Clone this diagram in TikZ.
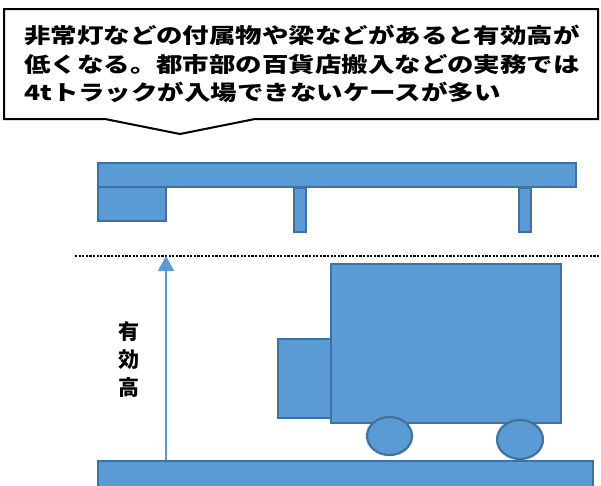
\documentclass[tikz,border=0pt]{standalone}
\usepackage{fontspec}
\usepackage{tikz}
\usetikzlibrary{positioning,arrows.meta}

\newfontfamily\jpfont{Noto Sans CJK JP}
\newfontfamily\jpwide[FakeStretch=1.26]{Noto Sans CJK JP}
\definecolor{partfill}{HTML}{5B9BD5}
\definecolor{partline}{HTML}{41719C}

\begin{document}
\begin{tikzpicture}[
    x=1pt, y=-1pt,
    part/.style={draw=partline, fill=partfill, line width=2.2pt},
    callout/.style={draw=black, fill=white, line width=2pt, line join=miter},
    note/.style={font=\jpwide\bfseries\fontsize{21}{28.5}\selectfont, align=left, inner sep=0pt},
    label/.style={font=\jpfont\bfseries\fontsize{21}{28}\selectfont, align=center, inner sep=0pt},
    arrow/.style={-{Triangle[width=16pt,length=15pt]}, draw=partfill, line width=1.3pt},
    limit/.style={draw=black, line width=2.4pt, dash pattern=on 2.2pt off 1.4pt}
]
\useasboundingbox (0,0) rectangle (601,485);
\clip (0,0) rectangle (601,485);

% --- Callout ---
\coordinate (boxnw) at (4,9);
\coordinate (boxse) at (598,119);
\coordinate (tip) at (180,134);
\draw[callout] (boxnw) -- (boxnw -| boxse) -- (boxse) -- (255,119) -- (tip)
    -- (105,119) -- (boxnw |- boxse) -- cycle;
\node[note] (note) at (302,64) {非常灯などの付属物や梁などがあると有効高が\\低くなる。都市部の百貨店搬入などの実務では\\4tトラックが入場できないケースが多い};

% --- Ceiling ---
\draw[part] (98,163) rectangle (576,187);
\draw[part] (98,187) rectangle (166,221);
\draw[part] (294,188) rectangle (306,232);
\draw[part] (519,188) rectangle (531,232);

% --- Clearance line ---
\coordinate (limitL) at (75,256);
\coordinate (limitR) at (601,256);
\draw[limit] (limitL) -- (limitR);

% --- Effective height ---
\coordinate (floortop) at (166,461);
\coordinate (limittop) at (166,256);
\draw[arrow] (floortop) -- (limittop);
\node[label] (height) at (129,360) {有\\効\\高};

% --- Floor ---
\draw[part] (98,461) rectangle (593,500);

% --- Truck ---
\draw[part] (278,339) rectangle (331,418);
\draw[part] (331,264) rectangle (561,423);
\draw[part] (389.5,436) ellipse [x radius=22.5pt, y radius=19pt];
\draw[part] (520,439.5) ellipse [x radius=23pt, y radius=19.5pt];

\end{tikzpicture}
\end{document}
